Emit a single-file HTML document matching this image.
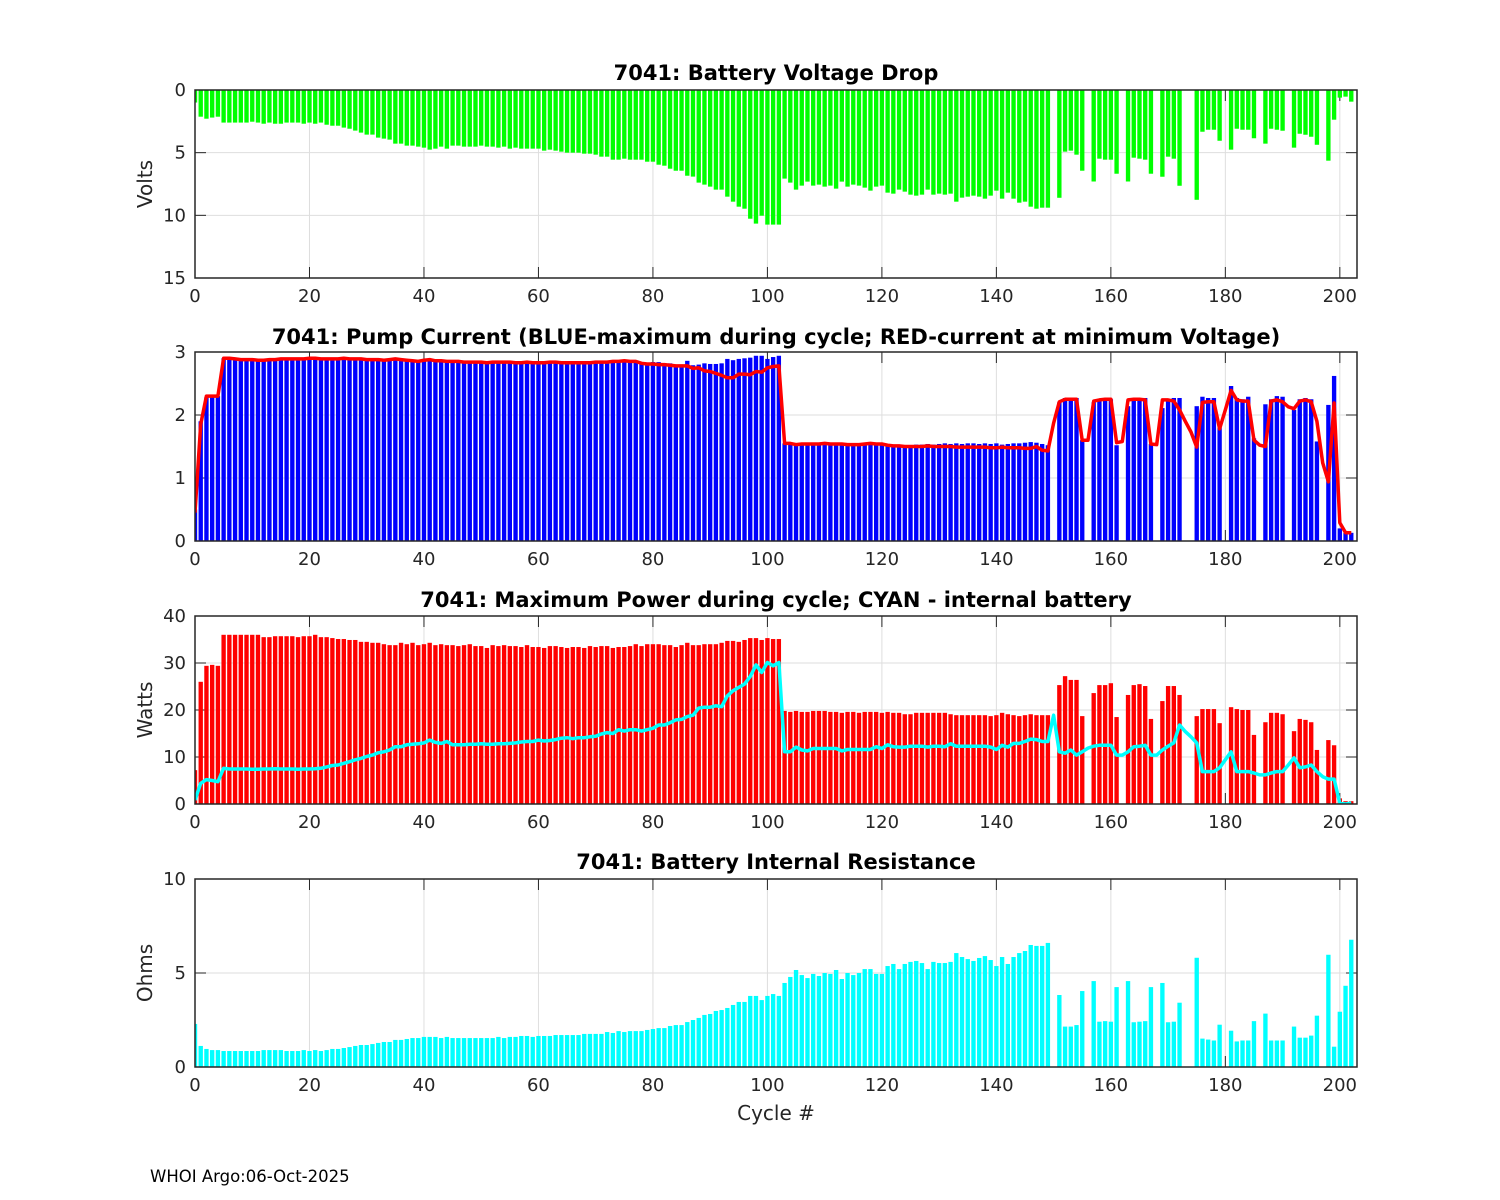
<!DOCTYPE html>
<html><head><meta charset="utf-8"><title>7041 battery diagnostics</title>
<style>
html,body{margin:0;padding:0;background:#fff;}
svg{display:block;font-family:"DejaVu Sans","Liberation Sans",sans-serif;}
.tk{font-size:18px;fill:#262626;}
.ttl{font-size:21px;font-weight:bold;fill:#000;}
.lab{font-size:20px;fill:#262626;}
</style></head>
<body>
<svg id="fig" width="1500" height="1200" viewBox="0 0 1500 1200" xmlns="http://www.w3.org/2000/svg">
<rect x="0" y="0" width="1500" height="1200" fill="#fff"/>
<defs>
<clipPath id="c1"><rect x="195" y="90" width="1162" height="188"/></clipPath>
<clipPath id="c2"><rect x="195" y="352" width="1162" height="189"/></clipPath>
<clipPath id="c3"><rect x="195" y="616" width="1162" height="188"/></clipPath>
<clipPath id="c4"><rect x="195" y="879" width="1162" height="188"/></clipPath>
</defs>
<text class="ttl" x="776" y="80" text-anchor="middle">7041: Battery Voltage Drop</text>
<text class="ttl" x="776" y="344" text-anchor="middle">7041: Pump Current (BLUE-maximum during cycle; RED-current at minimum Voltage)</text>
<text class="ttl" x="776" y="607" text-anchor="middle">7041: Maximum Power during cycle; CYAN - internal battery</text>
<text class="ttl" x="776" y="869" text-anchor="middle">7041: Battery Internal Resistance</text>
<text class="lab" transform="translate(152,184) rotate(-90)" text-anchor="middle">Volts</text>
<text class="lab" transform="translate(152,710) rotate(-90)" text-anchor="middle">Watts</text>
<text class="lab" transform="translate(152,973) rotate(-90)" text-anchor="middle">Ohms</text>
<text class="lab" x="776" y="1120" text-anchor="middle">Cycle #</text>
<text x="150" y="1182" style="font-size:16.5px;fill:#000">WHOI Argo:06-Oct-2025</text>
</svg>
<script>
const cycles = Array.from({length:203},(_,i)=>i);
const xTicks = [0,20,40,60,80,100,120,140,160,180,200];
const voltTicks = [0,5,10,15];
const ampTicks = [0,1,2,3];
const wattTicks = [0,10,20,30,40];
const ohmTicks = [0,5,10];
const voltDrop = [1.0,2.13,2.29,2.2,2.13,2.6,2.6,2.6,2.6,2.6,2.53,2.6,2.69,2.6,2.69,2.69,2.6,2.6,2.6,2.69,2.6,2.69,2.6,2.77,2.85,2.85,3.0,3.09,3.24,3.4,3.56,3.56,3.8,3.88,3.96,4.28,4.28,4.44,4.44,4.52,4.6,4.76,4.68,4.52,4.68,4.44,4.44,4.52,4.52,4.52,4.44,4.52,4.52,4.6,4.52,4.68,4.6,4.68,4.68,4.68,4.68,4.84,4.76,4.84,4.92,5.0,5.0,5.0,5.08,5.08,5.16,5.32,5.32,5.56,5.56,5.48,5.56,5.56,5.56,5.72,5.72,5.96,6.04,6.28,6.44,6.44,6.84,6.91,7.39,7.55,7.71,7.95,7.95,8.51,8.91,9.31,9.47,10.27,10.66,10.03,10.74,10.74,10.74,7.07,7.39,7.95,7.63,7.31,7.63,7.55,7.71,7.63,7.87,7.31,7.71,7.55,7.63,7.79,8.03,7.71,7.63,8.19,8.27,7.95,8.11,8.35,8.43,8.35,7.95,8.35,8.27,8.35,8.27,8.91,8.59,8.51,8.43,8.51,8.67,8.43,8.03,8.67,8.19,8.67,8.99,8.91,9.31,9.47,9.39,9.39,null,8.6,4.92,4.84,5.16,6.44,null,7.3,5.48,5.56,5.56,6.68,null,7.3,5.4,5.48,5.56,6.68,null,6.92,5.32,5.48,7.64,null,null,8.76,3.33,3.17,3.17,4.05,null,4.76,3.09,3.17,3.17,3.85,null,4.28,3.09,3.17,3.25,null,4.6,3.49,3.57,3.73,4.37,null,5.64,2.37,0.61,0.53,0.93];
const maxCurrent = [0.5,1.9,2.28,2.3,2.3,2.9,2.9,2.89,2.88,2.88,2.88,2.87,2.87,2.88,2.88,2.89,2.89,2.89,2.89,2.89,2.9,2.9,2.89,2.89,2.89,2.89,2.9,2.89,2.89,2.89,2.88,2.88,2.88,2.87,2.88,2.89,2.88,2.87,2.86,2.85,2.87,2.88,2.86,2.86,2.85,2.85,2.85,2.84,2.84,2.84,2.84,2.83,2.84,2.84,2.84,2.84,2.83,2.83,2.84,2.83,2.83,2.83,2.84,2.84,2.83,2.83,2.83,2.83,2.83,2.83,2.84,2.84,2.84,2.85,2.85,2.86,2.85,2.85,2.84,2.82,2.84,2.84,2.82,2.82,2.8,2.8,2.86,2.79,2.8,2.82,2.81,2.81,2.82,2.89,2.87,2.89,2.9,2.91,2.94,2.94,2.89,2.92,2.94,1.55,1.55,1.55,1.56,1.56,1.55,1.55,1.55,1.55,1.55,1.55,1.54,1.54,1.54,1.55,1.56,1.55,1.55,1.54,1.53,1.53,1.52,1.52,1.53,1.53,1.54,1.53,1.54,1.55,1.54,1.55,1.54,1.55,1.55,1.54,1.55,1.54,1.55,1.53,1.54,1.55,1.55,1.56,1.57,1.56,1.54,1.52,null,2.2,2.27,2.27,2.27,1.6,null,2.2,2.24,2.25,2.25,1.52,null,2.14,2.27,2.27,2.27,1.54,null,2.11,2.24,2.27,2.27,null,null,2.14,2.29,2.27,2.27,1.8,null,2.46,2.27,2.25,2.29,1.63,null,2.17,2.25,2.3,2.29,null,2.08,2.25,2.27,2.25,1.58,null,2.16,2.62,0.2,0.13,0.13];
const minVoltCurrent = [0.45,1.85,2.3,2.3,2.3,2.9,2.9,2.89,2.88,2.88,2.88,2.87,2.87,2.88,2.88,2.89,2.89,2.89,2.89,2.89,2.9,2.9,2.89,2.89,2.89,2.89,2.9,2.89,2.89,2.89,2.88,2.88,2.88,2.87,2.88,2.89,2.88,2.87,2.86,2.85,2.87,2.88,2.86,2.86,2.85,2.85,2.85,2.84,2.84,2.84,2.84,2.83,2.84,2.84,2.84,2.84,2.83,2.83,2.84,2.83,2.83,2.83,2.84,2.84,2.83,2.83,2.83,2.83,2.83,2.83,2.84,2.84,2.84,2.85,2.85,2.86,2.85,2.85,2.82,2.81,2.81,2.8,2.8,2.79,2.78,2.78,2.78,2.74,2.75,2.7,2.69,2.66,2.63,2.59,2.59,2.65,2.65,2.64,2.69,2.68,2.75,2.77,2.78,1.55,1.55,1.53,1.54,1.54,1.54,1.54,1.55,1.54,1.54,1.54,1.53,1.53,1.53,1.54,1.55,1.54,1.54,1.52,1.51,1.51,1.5,1.5,1.5,1.5,1.51,1.5,1.5,1.5,1.5,1.49,1.49,1.49,1.49,1.49,1.49,1.48,1.48,1.49,1.48,1.48,1.48,1.47,1.47,1.5,1.44,1.43,1.87,2.21,2.25,2.25,2.25,1.6,1.6,2.22,2.24,2.25,2.25,1.56,1.58,2.24,2.25,2.25,2.24,1.54,1.53,2.24,2.24,2.22,2.08,1.9,1.73,1.49,2.2,2.21,2.21,1.78,2.08,2.39,2.24,2.22,2.22,1.6,1.52,1.5,2.22,2.24,2.21,2.13,2.1,2.22,2.24,2.21,1.9,1.24,0.94,2.19,0.29,0.13,0.13];
const maxPower = [7.2,26.0,29.4,29.6,29.4,36.0,36.0,36.0,36.0,36.0,36.0,36.0,35.5,35.5,35.7,35.7,35.7,35.7,35.5,35.7,35.7,36.0,35.5,35.5,35.3,35.1,35.1,34.9,34.9,34.5,34.5,34.3,34.3,34.0,33.8,33.8,34.3,34.0,34.3,33.8,34.0,34.3,33.8,34.0,33.8,33.8,33.6,33.8,34.0,33.6,33.6,33.2,33.8,33.6,33.8,33.6,33.6,33.4,33.8,33.4,33.4,33.2,33.6,33.6,33.4,33.2,33.4,33.4,33.2,33.6,33.4,33.6,33.6,33.2,33.4,33.4,33.6,34.0,33.6,34.0,34.0,34.0,33.8,33.8,33.4,33.8,34.3,33.8,33.8,34.0,34.0,34.0,34.3,34.7,34.7,34.5,34.9,35.3,35.3,34.9,35.3,35.1,35.1,19.8,19.6,19.8,19.6,19.6,19.8,19.8,19.8,19.6,19.6,19.4,19.6,19.6,19.4,19.6,19.6,19.6,19.4,19.6,19.4,19.4,19.1,19.1,19.4,19.4,19.4,19.4,19.4,19.4,19.1,18.9,18.9,18.9,18.9,18.9,18.9,18.7,18.9,19.4,19.1,18.9,18.7,18.9,19.1,18.9,18.9,18.9,null,25.3,27.2,26.4,26.4,18.7,null,23.6,25.3,25.3,25.7,18.5,null,23.2,25.3,25.5,25.1,18.1,null,21.9,25.1,25.1,23.2,null,null,18.7,20.2,20.2,20.2,17.2,null,20.6,20.2,20.0,20.0,14.7,null,17.4,19.4,19.4,19.1,null,15.5,18.1,17.9,17.4,11.5,null,13.6,12.5,1.2,0.6,0.6];
const internalPower = [0.85,4.4,5.2,5.0,4.75,7.6,7.45,7.45,7.45,7.45,7.4,7.4,7.45,7.45,7.5,7.45,7.45,7.45,7.4,7.45,7.45,7.5,7.6,7.9,8.2,8.3,8.65,9.0,9.4,9.7,10.1,10.4,10.9,11.1,11.5,12.2,12.2,12.6,12.7,12.8,13.0,13.6,13.1,12.9,13.3,12.6,12.6,12.6,12.7,12.7,12.8,12.7,12.7,12.8,12.8,12.9,13.0,13.2,13.3,13.3,13.6,13.4,13.5,13.7,14.0,14.1,13.9,14.1,14.1,14.3,14.4,14.9,15.2,15.0,15.8,15.5,15.8,15.8,15.5,15.8,16.1,16.8,16.8,17.3,17.9,18.0,18.6,18.9,20.4,20.6,20.6,20.9,20.7,23.0,24.1,24.8,25.5,27.1,29.6,28.0,30.1,29.4,30.1,11.1,11.1,12.1,11.5,11.3,11.8,11.8,11.8,11.8,11.8,11.3,11.6,11.6,11.6,11.6,11.6,12.2,11.8,12.6,12.2,12.1,12.1,12.3,12.3,12.3,12.1,12.3,12.3,12.2,12.8,12.3,12.3,12.3,12.3,12.3,12.3,12.1,11.6,12.5,12.1,12.9,12.9,13.3,13.8,13.7,13.3,13.3,18.9,11.1,10.8,11.5,10.4,11.1,11.9,12.3,12.5,12.5,12.5,10.4,10.4,11.1,12.2,12.3,12.5,10.4,10.4,11.5,12.3,13.0,16.8,15.4,14.3,13.0,6.9,6.9,6.9,7.7,9.4,11.1,6.9,6.9,6.9,6.6,6.2,6.2,6.6,6.9,6.9,8.3,9.8,7.7,7.9,8.3,6.9,5.8,5.3,5.3,0.2,0.0,0.2];
const resistance = [2.29,1.12,0.96,0.9,0.9,0.85,0.85,0.85,0.85,0.85,0.85,0.85,0.9,0.9,0.9,0.9,0.85,0.85,0.85,0.9,0.85,0.9,0.85,0.9,0.96,0.96,1.01,1.06,1.12,1.17,1.17,1.22,1.28,1.33,1.33,1.44,1.44,1.49,1.54,1.54,1.6,1.6,1.6,1.54,1.6,1.54,1.54,1.54,1.54,1.54,1.54,1.54,1.54,1.6,1.54,1.6,1.6,1.65,1.65,1.6,1.65,1.65,1.65,1.7,1.7,1.7,1.7,1.7,1.76,1.76,1.76,1.76,1.86,1.81,1.91,1.86,1.91,1.91,1.91,1.97,2.02,2.07,2.07,2.18,2.23,2.23,2.39,2.5,2.61,2.77,2.82,2.98,3.03,3.14,3.3,3.46,3.46,3.78,3.78,3.56,3.78,3.88,3.78,4.47,4.79,5.16,4.89,4.73,4.95,4.84,5.0,4.95,5.16,4.68,5.0,4.89,5.0,5.21,5.21,4.95,4.95,5.37,5.48,5.21,5.48,5.59,5.64,5.53,5.21,5.59,5.53,5.53,5.59,6.06,5.85,5.74,5.64,5.8,5.9,5.69,5.37,5.85,5.48,5.85,6.06,6.17,6.49,6.44,6.44,6.6,null,3.83,2.15,2.15,2.23,4.04,null,4.57,2.41,2.44,2.41,4.25,null,4.57,2.38,2.41,2.44,4.25,null,4.47,2.38,2.41,3.42,null,null,5.81,1.51,1.46,1.41,2.25,null,1.93,1.36,1.41,1.41,2.44,null,2.84,1.41,1.41,1.41,null,2.15,1.56,1.56,1.67,2.73,null,5.97,1.08,2.94,4.32,6.77];

const NS = 'http://www.w3.org/2000/svg';
const svg = document.getElementById('fig');
const X0 = 195, X1 = 1357, XMAX = 203;
function xScale(c){ return X0 + c*(X1-X0)/XMAX; }
function mk(tag, attrs, parent){
  const e = document.createElementNS(NS, tag);
  for (const k in attrs) e.setAttribute(k, attrs[k]);
  (parent||svg).appendChild(e);
  return e;
}
const panels = [
  {top:90, bot:278, ymin:0, ymax:15, rev:true, ticks:voltTicks, clip:'c1', name:'voltage'},
  {top:352, bot:541, ymin:0, ymax:3, rev:false, ticks:ampTicks, clip:'c2', name:'current'},
  {top:616, bot:804, ymin:0, ymax:40, rev:false, ticks:wattTicks, clip:'c3', name:'power'},
  {top:879, bot:1067, ymin:0, ymax:10, rev:false, ticks:ohmTicks, clip:'c4', name:'resistance'}
];
function yScale(p, v){
  const f = (v - p.ymin)/(p.ymax - p.ymin);
  return p.rev ? p.top + f*(p.bot-p.top) : p.bot - f*(p.bot-p.top);
}
function drawAxes(p){
  const g = mk('g', {});
  
  
  xTicks.forEach(t => {
    const x = xScale(t);
    const gl = mk('line', {x1:x, x2:x, y1:p.top, y2:p.bot, stroke:'#dedede', 'stroke-width':1}, g);
    
    
    mk('line', {x1:x, x2:x, y1:p.bot, y2:p.bot-11, stroke:'#262626', 'stroke-width':1}, g);
    mk('line', {x1:x, x2:x, y1:p.top, y2:p.top+11, stroke:'#262626', 'stroke-width':1}, g);
    const tl = mk('text', {x:x, y:p.bot+24, 'text-anchor':'middle', class:'tk'}, g);
    tl.textContent = t;
    
    
  });
  p.ticks.forEach(t => {
    const y = yScale(p, t);
    const gl = mk('line', {x1:X0, x2:X1, y1:y, y2:y, stroke:'#dedede', 'stroke-width':1}, g);
    
    
    mk('line', {x1:X0, x2:X0+11, y1:y, y2:y, stroke:'#262626', 'stroke-width':1}, g);
    mk('line', {x1:X1, x2:X1-11, y1:y, y2:y, stroke:'#262626', 'stroke-width':1}, g);
    const tl = mk('text', {x:X0-9, y:y+6, 'text-anchor':'end', class:'tk'}, g);
    tl.textContent = t;
    
    
  });
}
function drawFrame(p){
  const r = mk('rect', {x:X0, y:p.top, width:X1-X0, height:p.bot-p.top, fill:'none', stroke:'#262626', 'stroke-width':1.5});
  
  
}
function drawBars(p, vals, color, name){
  const g = mk('g', {'clip-path':'url(#'+p.clip+')'});
  
  
  const w = 0.76*(X1-X0)/XMAX;
  cycles.forEach((c,i) => {
    const v = vals[i];
    if (v === null || v === undefined) return;
    const y0 = yScale(p, 0), y1 = yScale(p, v);
    const b = mk('rect', {x:xScale(c)-w/2, y:Math.min(y0,y1), width:w, height:Math.abs(y1-y0), fill:color}, g);
    
    
  });
}
function drawLine(p, vals, color, name){
  const pts = [];
  cycles.forEach((c,i) => { if (vals[i] !== null) pts.push(xScale(c).toFixed(1)+','+yScale(p, vals[i]).toFixed(1)); });
  const g = mk('g', {'clip-path':'url(#'+p.clip+')'});
  const l = mk('polyline', {points:pts.join(' '), fill:'none', stroke:color, 'stroke-width':3.5, 'stroke-linejoin':'round'}, g);
  
  
}
panels.forEach(drawAxes);
drawBars(panels[0], voltDrop, '#00ff00', 'voltage-drop');
drawBars(panels[1], maxCurrent, '#0000ff', 'max-current');
drawLine(panels[1], minVoltCurrent, '#ff0000', 'min-voltage-current');
drawBars(panels[2], maxPower, '#ff0000', 'max-power');
drawLine(panels[2], internalPower, '#00ffff', 'internal-battery-power');
drawBars(panels[3], resistance, '#00ffff', 'internal-resistance');
panels.forEach(drawFrame);
</script>
</body></html>
